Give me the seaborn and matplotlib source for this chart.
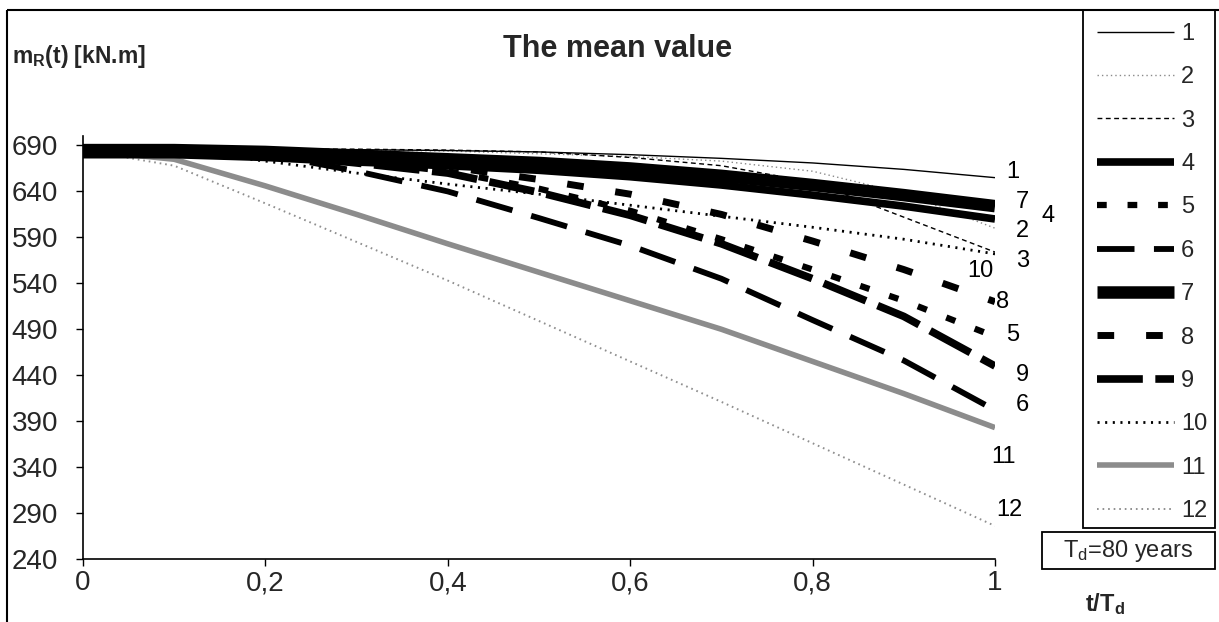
import matplotlib
matplotlib.use("Agg")
import matplotlib.pyplot as plt
import numpy as np
import pandas as pd
import seaborn as sns
from matplotlib.patches import Rectangle
from matplotlib.lines import Line2D

# ---------------- data ----------------
t = [0.0, 0.1, 0.2, 0.3, 0.4, 0.5, 0.6, 0.7, 0.8, 0.9, 1.0]

s1 = [686, 686, 686, 685.5, 684.5, 683, 680, 676, 671, 664, 655]
s2 = [686, 686, 685, 685, 684, 681, 678, 673, 662, 638, 600]
s3 = [686, 686, 686, 686, 685, 683, 677, 668, 650, 612, 574]
s4 = [680, 680, 677, 672, 668, 663, 656, 647, 636, 624, 610]
s5 = [685, 685, 682, 673, 662, 643, 619, 588, 555, 521, 482]
s6 = [685, 685, 681, 662, 640, 611, 581, 545, 500, 456, 402]
s7 = [685, 685, 683, 679, 675, 671, 665, 657, 647, 636, 624]
s8 = [685, 685, 683, 677, 667, 653, 637, 615, 586, 555, 520]
s9 = [685, 685, 681, 671, 660, 639, 614, 583, 545, 504, 450]
s10 = [686, 685, 673, 660, 648, 637, 625, 613, 601, 588, 572]
s11 = [685, 675, 646, 615, 583, 552, 521, 490, 455, 420, 383]
s12 = [685, 668, 627, 585, 543, 499, 455, 411, 366, 321, 276]

series_names = ["1", "2", "3", "4", "5", "6", "7", "8", "9", "10", "11", "12"]
series_values = [s1, s2, s3, s4, s5, s6, s7, s8, s9, s10, s11, s12]

y_ticks = [240, 290, 340, 390, 440, 490, 540, 590, 640, 690]
x_ticks = [0, 0.2, 0.4, 0.6, 0.8, 1.0]
x_tick_labels = ["0", "0,2", "0,4", "0,6", "0,8", "1"]

title = "The mean value"
y_label = r"m$_{\mathbf{R}}$(t) [kN.m]"
x_label = r"t/T$_{\mathbf{d}}$"
note = r"T$_{\mathrm{d}}$=80 years"

# ---------------- styles ----------------
styles = {
    "1": dict(color="black", lw=1.0, ls="-"),
    "2": dict(color="#8a8a8a", lw=1.0, ls=(0, (1.0, 2.2))),
    "3": dict(color="black", lw=1.0, ls=(0, (3.5, 2.5))),
    "4": dict(color="black", lw=5.5, ls="-"),
    "5": dict(color="black", lw=4.5, ls=(0, (7.0, 15.0))),
    "6": dict(color="black", lw=4.2, ls=(0, (27.0, 14.0))),
    "7": dict(color="black", lw=9.0, ls="-"),
    "8": dict(color="black", lw=5.0, ls=(0, (12.0, 23.0))),
    "9": dict(color="black", lw=5.5, ls=(0, (33.0, 9.0))),
    "10": dict(color="black", lw=2.0, ls=(0, (1.5, 4.0))),
    "11": dict(color="#8c8c8c", lw=4.0, ls="-"),
    "12": dict(color="#8f8f8f", lw=1.4, ls=(0, (1.2, 2.8))),
}
draw_order = ["12", "11", "2", "10", "3", "6", "9", "5", "8", "4", "7", "1"]

# end labels (layout, in axis-data coordinates)
end_labels = {
    "1": (1.020, 661), "7": (1.030, 629), "4": (1.058, 613), "2": (1.030, 597),
    "3": (1.030, 564), "10": (0.984, 553), "8": (1.008, 520), "5": (1.019, 484),
    "9": (1.030, 440), "6": (1.030, 408), "11": (1.009, 351), "12": (1.016, 293),
}

# ---------------- figure ----------------
sns.set_theme(style="white")
plt.rcParams["font.family"] = ["Liberation Sans", "DejaVu Sans"]
plt.rcParams["mathtext.fontset"] = "custom"
plt.rcParams["mathtext.rm"] = "Liberation Sans"
plt.rcParams["mathtext.it"] = "Liberation Sans:italic"
plt.rcParams["mathtext.bf"] = "Liberation Sans:bold"
plt.rcParams["lines.scale_dashes"] = False
plt.rcParams["lines.solid_capstyle"] = "butt"
plt.rcParams["lines.dash_capstyle"] = "butt"

W, H = 1219, 622
fig = plt.figure(figsize=(W / 100, H / 100), dpi=100)
fig.patch.set_facecolor("white")

def fx(px):
    return px / W

def fy(py):
    return 1 - py / H

ax = fig.add_axes([fx(83), fy(559), fx(995) - fx(83), fy(136.3) - fy(559)])
ax.set_facecolor("white")

handles = {}
for name in draw_order:
    vals = series_values[series_names.index(name)]
    st = styles[name]
    sns.lineplot(x=t, y=vals, ax=ax, color=st["color"], linewidth=st["lw"],
                 linestyle=st["ls"], legend=False, errorbar=None, sort=False)
    line = ax.get_lines()[-1]
    line.set_label(name)
    handles[name] = line

ax.set_xlim(0, 1)
ax.set_ylim(240, 700)
ax.set_xticks(x_ticks)
ax.set_xticklabels(x_tick_labels)
ax.set_yticks(y_ticks)
ax.set_xlabel("")
ax.set_ylabel("")
for side in ["top", "right"]:
    ax.spines[side].set_visible(False)
for side in ["left", "bottom"]:
    ax.spines[side].set_color("black")
    ax.spines[side].set_linewidth(1.2)
ax.tick_params(axis="y", direction="out", length=5, width=1, color="black",
               labelsize=20, pad=13, left=True)
ax.tick_params(axis="x", direction="out", length=5, width=1, color="black",
               labelsize=20, pad=3, bottom=True)
ax.grid(False)

for name, (xx, yy) in end_labels.items():
    ax.text(xx, yy, name, ha="center", va="center", fontsize=17,
            clip_on=False, color="black")

# title and axis labels
fig.text(fx(618), fy(49), title, ha="center", va="center", fontsize=22,
         fontweight="bold")
fig.text(fx(12), fy(57), y_label, ha="left", va="center", fontsize=16.5,
         fontweight="bold")
fig.text(fx(1085), fy(604), x_label, ha="left", va="center", fontsize=17,
         fontweight="bold")

# outer chart frame (cropped)
fig.add_artist(Line2D([fx(7), fx(1219)], [fy(10), fy(10)], color="black", lw=1.5))
fig.add_artist(Line2D([fx(7), fx(7)], [fy(10), fy(622)], color="black", lw=1.5))

# legend box
fig.add_artist(Rectangle((fx(1083), fy(528)), fx(1215) - fx(1083), fy(10) - fy(528),
                         fill=False, edgecolor="black", lw=1.3))
leg = fig.legend([handles[n] for n in series_names], series_names,
                 loc="upper left", bbox_to_anchor=(fx(1097), fy(23)),
                 bbox_transform=fig.transFigure, frameon=False, fontsize=17,
                 handlelength=3.26, handletextpad=0.3, labelspacing=0.905,
                 borderpad=0, borderaxespad=0)

# T_d box
fig.add_artist(Rectangle((fx(1042), fy(569)), fx(1215) - fx(1042), fy(532) - fy(569),
                         fill=False, edgecolor="black", lw=1.3))
fig.text(fx(1128), fy(551), note, ha="center", va="center", fontsize=17)

fig.savefig("out.png", dpi=100, facecolor="white")
